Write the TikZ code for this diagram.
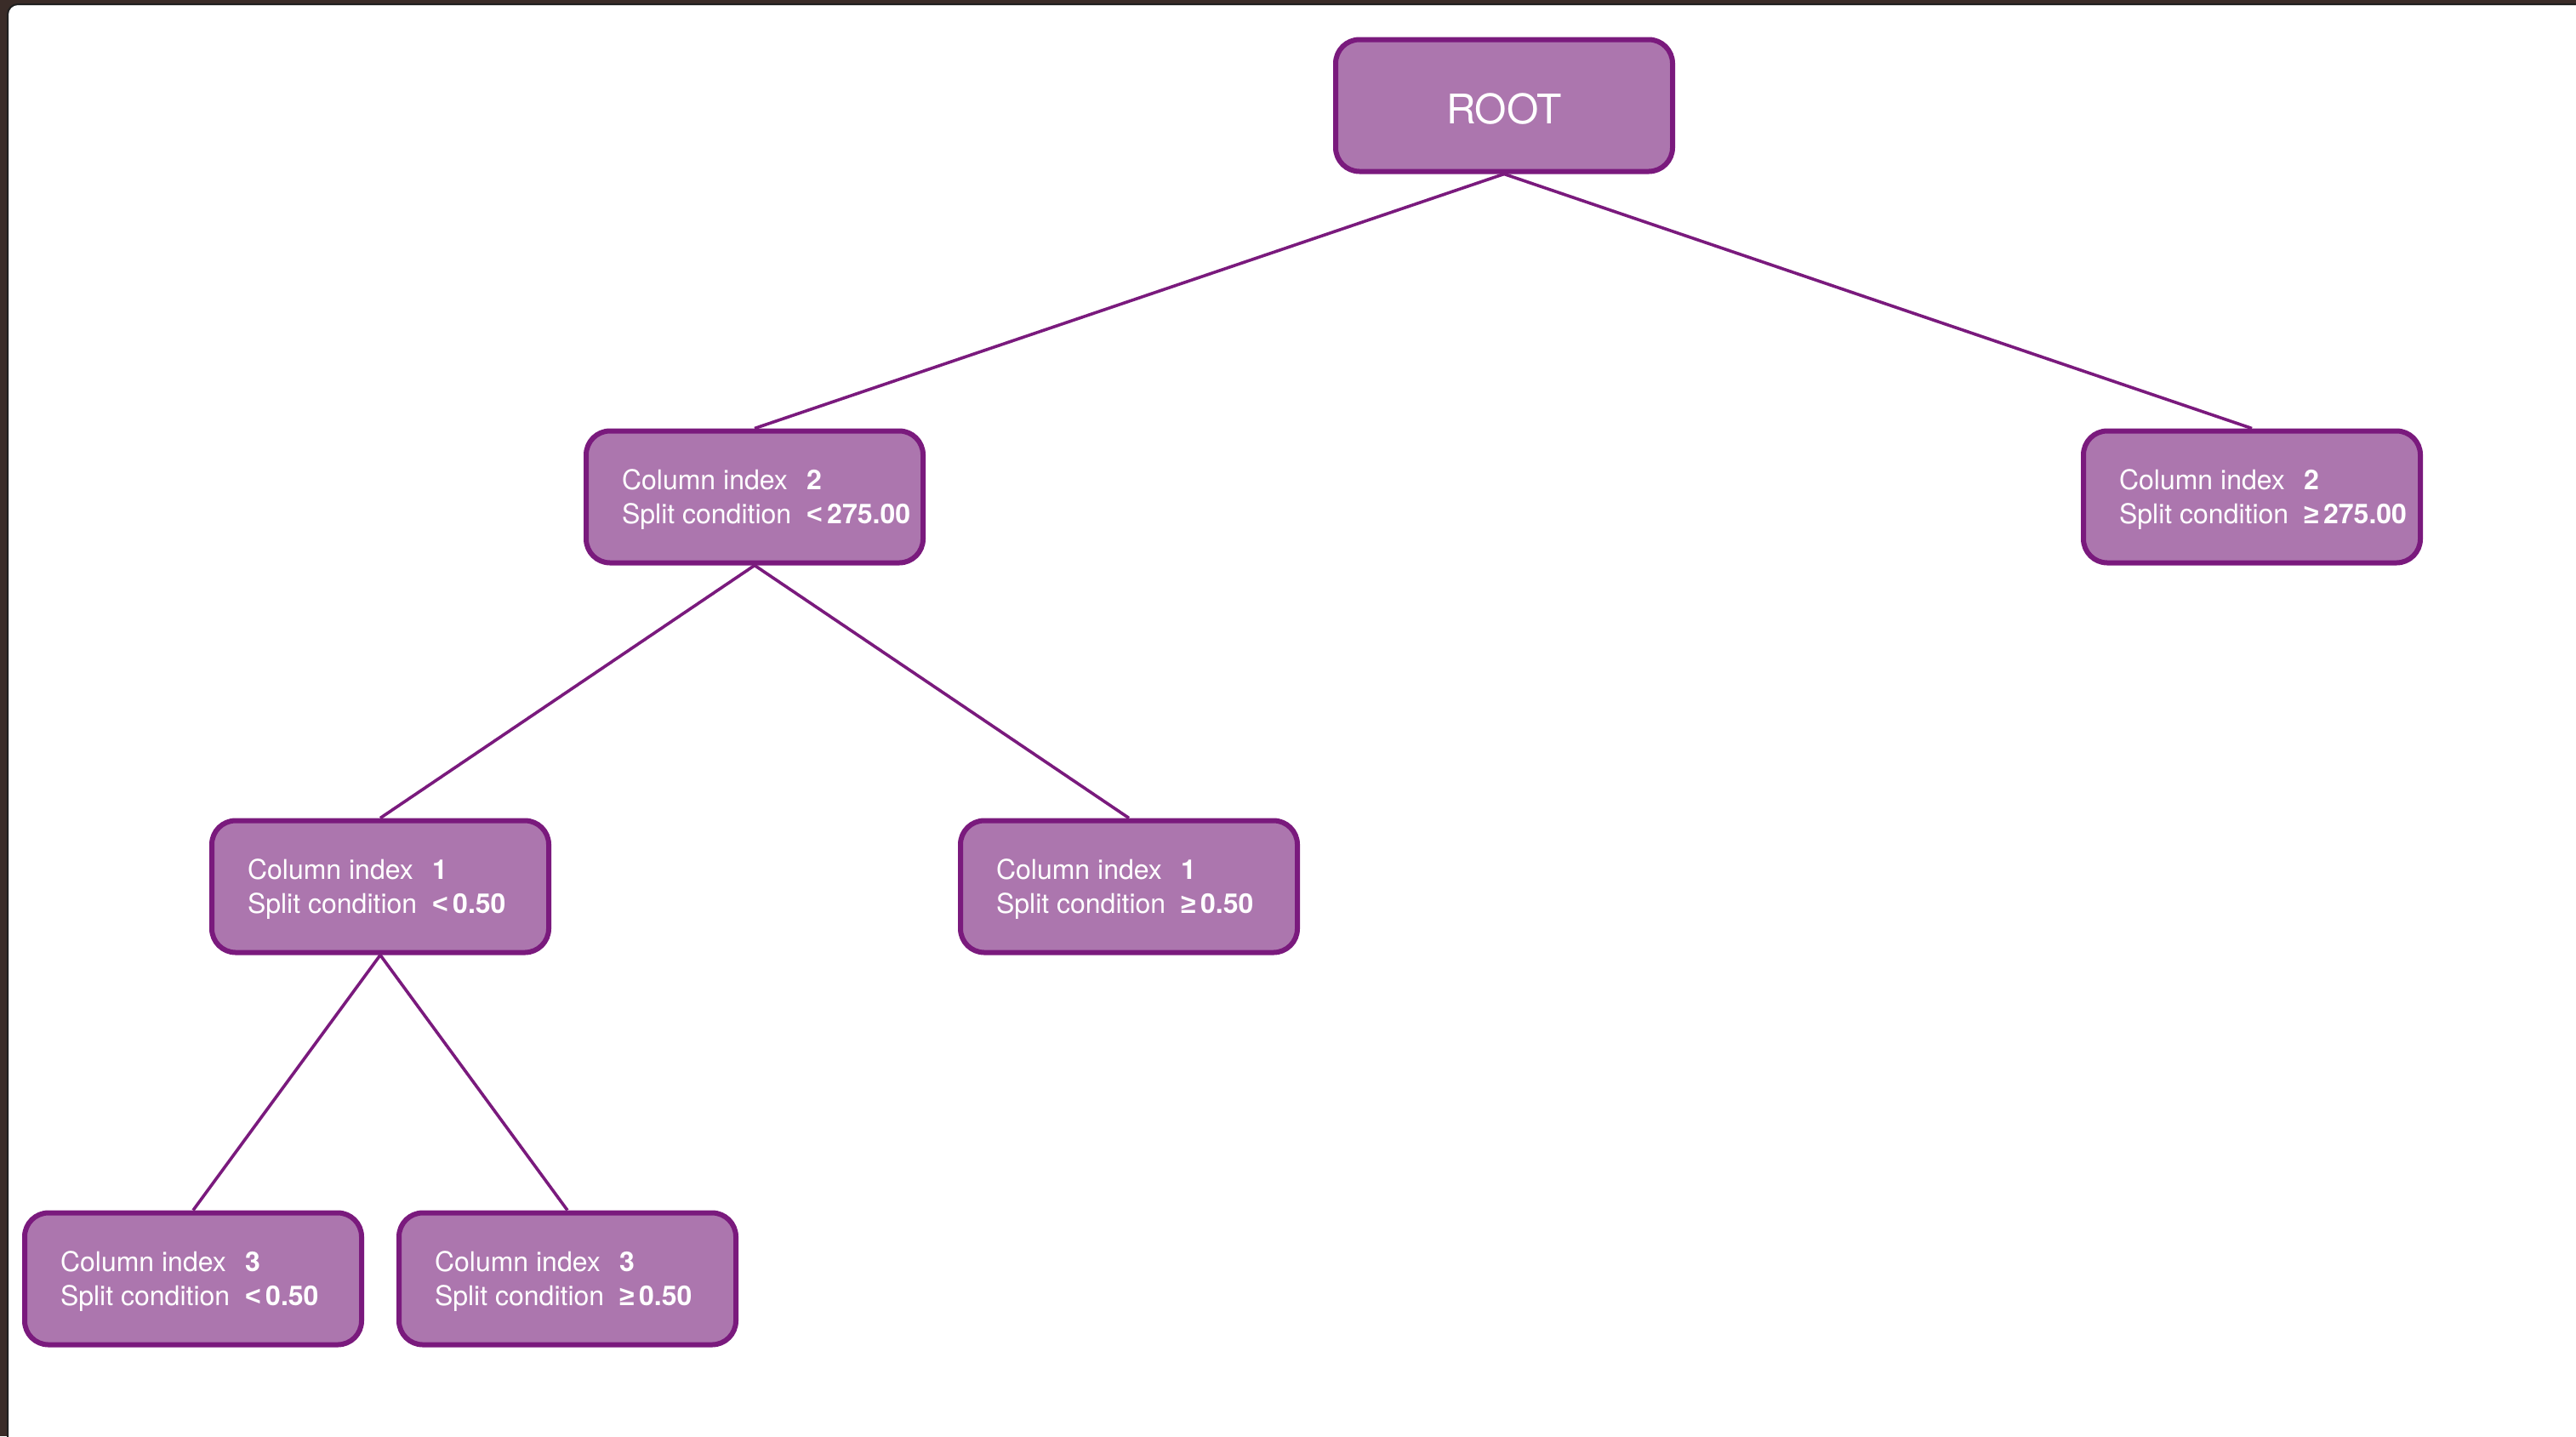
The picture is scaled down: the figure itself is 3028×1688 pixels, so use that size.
\documentclass[tikz,border=0pt]{standalone}
\usepackage{fontspec}
\setmainfont{TeX Gyre Heros}
\newfontfamily\symfont{Liberation Sans}
\definecolor{framecol}{HTML}{3A2C28}
\definecolor{frameedge}{HTML}{1F1F1F}
\definecolor{boxfill}{HTML}{AC76AE}
\definecolor{boxedge}{HTML}{7A1A7D}
\newcommand{\geqsym}{{\symfont\bfseries ≥}}
\newcommand{\ltsym}{{\symfont\bfseries <}}
\newcommand{\splitlabel}[2]{\makebox[156pt][l]{\raisebox{-1.5pt}[\height][\depth]{\begin{tabular}{@{}l@{\hspace{9pt}}l@{}}Column index & \textbf{#1}\\ Split condition & \textbf{#2}\end{tabular}}}}
\begin{document}
\begin{tikzpicture}[x=0.5pt,y=-0.5pt,
  treebox/.style={draw=boxedge, fill=boxfill, line width=3pt, rounded corners=14pt,
    minimum width=198pt, minimum height=77.5pt, inner xsep=21pt, inner ysep=0pt,
    text=white, font=\fontsize{16}{20}\selectfont},
  rootbox/.style={treebox, font=\fontsize{24}{28}\selectfont},
  edge/.style={draw=boxedge, line width=1.8pt}]
\useasboundingbox (0,0) rectangle (3028,1688);
\fill[framecol] (0,0) rectangle (3028,1688);
\begin{scope}
\clip (0,0) rectangle (3028,1688);
\fill[white, draw=frameedge, line width=1pt, rounded corners=6pt] (9,5) rectangle (3100,1760);
\end{scope}

\node[rootbox] (root) at (1768,124) {\raisebox{-2pt}[\height][\depth]{ROOT}};
\node[treebox] (a) at (887,584) {\splitlabel{2}{\ltsym\,275.00}};
\node[treebox] (b) at (2647,584) {\splitlabel{2}{\geqsym\,275.00}};
\node[treebox] (c) at (447,1042) {\splitlabel{1}{\ltsym\,0.50}};
\node[treebox] (d) at (1327,1042) {\splitlabel{1}{\geqsym\,0.50}};
\node[treebox] (e) at (227,1503) {\splitlabel{3}{\ltsym\,0.50}};
\node[treebox] (f) at (667,1503) {\splitlabel{3}{\geqsym\,0.50}};

\draw[edge] (root.south) -- (a.north);
\draw[edge] (root.south) -- (b.north);
\draw[edge] (a.south) -- (c.north);
\draw[edge] (a.south) -- (d.north);
\draw[edge] (c.south) -- (e.north);
\draw[edge] (c.south) -- (f.north);
\end{tikzpicture}
\end{document}
